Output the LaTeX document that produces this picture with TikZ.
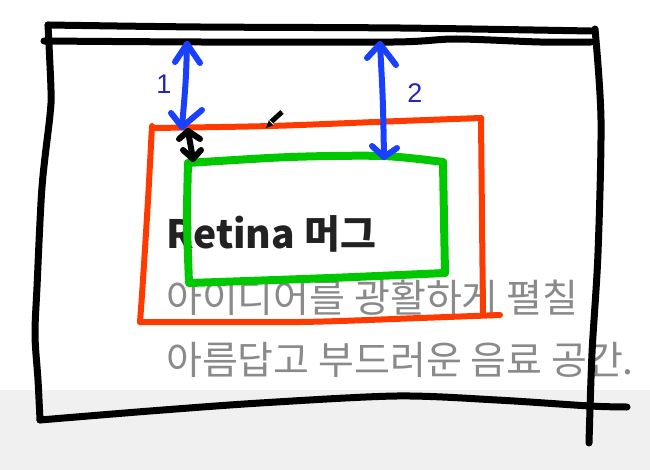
\documentclass[tikz,border=0pt]{standalone}
\usepackage{fontspec}
\newfontfamily\kr{Noto Sans CJK KR}
\newfontfamily\numfont{Liberation Sans}
\usetikzlibrary{calc}
\definecolor{bgray}{HTML}{F0F0F0}
\definecolor{redline}{HTML}{FF3A00}
\definecolor{greenline}{HTML}{00C800}
\definecolor{blueline}{HTML}{1A40FF}
\definecolor{bluelabel}{HTML}{2626B8}
\definecolor{graytext}{HTML}{8A8A8A}
\definecolor{titletext}{HTML}{222222}
\tikzset{
  pen/.style={line cap=round, line join=round},
  blackpen/.style={pen, draw=black, line width=7pt},
  redpen/.style={pen, draw=redline, line width=6pt},
  greenpen/.style={pen, draw=greenline, line width=8pt},
  bluepen/.style={pen, draw=blueline, line width=6pt},
  darkpen/.style={pen, draw=black, line width=6pt},
  numlabel/.style={text=bluelabel, font=\numfont\fontsize{27}{30}\selectfont, inner sep=0pt},
  titlestyle/.style={text=titletext, font=\kr\bfseries\fontsize{39}{44}\selectfont, inner sep=0pt, anchor=base west},
  bodystyle/.style={text=graytext, font=\kr\fontsize{39}{44}\selectfont, inner sep=0pt, anchor=base west},
}
\begin{document}
\begin{tikzpicture}[x=1pt,y=-1pt]
\useasboundingbox (0,0) rectangle (650,470);
\fill[white] (0,0) rectangle (650,390);
\fill[bgray] (0,390) rectangle (650,470);
% texts
\node[titlestyle] (title) at (166,249) {Retina 머그};
\node[bodystyle] (line1) at (166,312) {아이디어를 광활하게 펼칠};
\node[bodystyle] (line2) at (166,374) {아름답고 부드러운 음료 공간.};
% red rectangle
\draw[redpen] plot[smooth] coordinates {(152,126) (148,200) (143,280) (140,322)};
\draw[redpen] plot[smooth] coordinates {(152,128) (270,126) (400,121) (481,118)};
\draw[redpen] plot[smooth] coordinates {(481,118) (482,220) (483,313)};
\draw[redpen] plot[smooth] coordinates {(140,322) (300,322) (420,318) (500,315)};
% green rectangle
\draw[greenpen] plot[smooth] coordinates {(188,163) (290,157) (383,156) (443,162)};
\draw[greenpen] plot[smooth] coordinates {(443,162) (444,220) (445,273)};
\draw[greenpen] plot[smooth] coordinates {(445,273) (330,278) (190,283)};
\draw[greenpen] plot[smooth] coordinates {(188,163) (187,220) (189,283)};
% black frame
\draw[blackpen] plot[smooth] coordinates {(48,25) (200,27) (400,28) (591,31)};
\draw[blackpen] plot[smooth] coordinates {(44,41) (200,42) (394,42) (456,39) (540,42) (591,42)};
\draw[blackpen] plot[smooth] coordinates {(48,25) (51,90) (50,115) (42,187) (37,287) (35,335) (38,380) (40,420)};
\draw[blackpen] plot[smooth] coordinates {(595,29) (601,120) (598,253) (592,353) (589,443)};
\draw[blackpen] plot[smooth] coordinates {(40,420) (150,411) (260,403) (397,396) (497,400) (590,406) (627,407)};
% blue arrows
\coordinate (a1t) at (187,44);
\coordinate (a1b) at (182,127);
\coordinate (a2t) at (380,44);
\coordinate (a2b) at (384,157);
\draw[bluepen] (a1t) .. controls (186,80) .. (a1b);
\draw[bluepen] (175,62) -- (a1t) -- (200,63);
\draw[bluepen] (171,113) -- (a1b) -- (202,110);
\draw[bluepen] (a2t) .. controls (383,100) .. (a2b);
\draw[bluepen] (367,58) -- (a2t) -- (396,65);
\draw[bluepen] (372,146) -- (a2b) -- (397,148);
\node[numlabel] (n1) at (164,84) {1};
\node[numlabel] (n2) at (415,93) {2};
% black small arrow
\coordinate (k1) at (188,131);
\coordinate (k2) at (193,159);
\draw[darkpen] (k1) -- (k2);
\draw[darkpen] (179,139) -- (k1) -- (200,139);
\draw[darkpen] (183,150) -- (k2) -- (201,150);
% pencil
\draw[line width=5pt, black] (271,122) -- (282,112);
\fill[black] (266,128) -- (269,120) -- (274,125) -- cycle;
\draw[white, line width=1pt] (269.5,120.5) -- (273.5,124.5);
\end{tikzpicture}
\end{document}
